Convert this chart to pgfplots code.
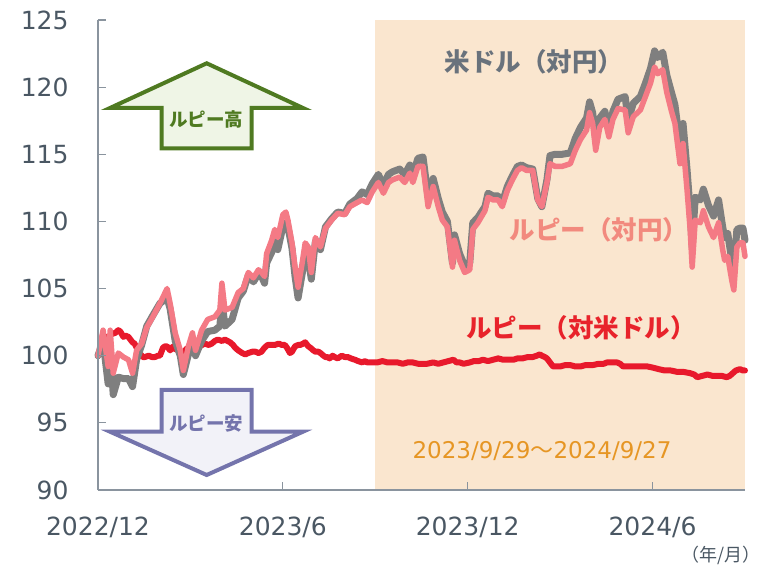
\documentclass[border=0pt]{standalone}
\usepackage{fontspec}
\setmainfont{DejaVu Sans}
\newfontfamily\jp{Noto Sans CJK JP}
\usepackage{pgfplots}
\pgfplotsset{compat=1.18}
\definecolor{axcol}{HTML}{8A949E}
\definecolor{lblcol}{HTML}{4A5763}
\definecolor{usdcol}{HTML}{7F7F7F}
\definecolor{idrjpy}{HTML}{F47A85}
\definecolor{idrusd}{HTML}{E8192C}
\definecolor{bandcol}{HTML}{FAE6CF}
\definecolor{usdtxt}{HTML}{69727C}
\definecolor{idrjpytxt}{HTML}{F28A7E}
\definecolor{idrusdtxt}{HTML}{E8232B}
\definecolor{periodtxt}{HTML}{E69624}
\definecolor{grn}{HTML}{4F7A21}
\definecolor{grnfill}{HTML}{EFF5E6}
\definecolor{pur}{HTML}{7474AC}
\definecolor{purfill}{HTML}{F2F2F8}
\begin{document}
\begin{tikzpicture}
\begin{axis}[
  at={(0,0)}, anchor=south west,
  scale only axis, width=647bp, height=470bp,
  xmin=0, xmax=637, ymin=90, ymax=125,
  axis x line*=bottom, axis y line*=left,
  axis line style={axcol, line width=1.5bp},
  every tick/.style={axcol, line width=1.2bp},
  tick align=inside, major tick length=8bp,
  xtick={0,182,364,546},
  xticklabels={2022/12,2023/6,2023/12,2024/6},
  ytick={90,95,...,125},
  /pgf/number format/assume math mode=true,
  ticklabel style={font=\fontsize{25bp}{28bp}\selectfont, text=lblcol},
  yticklabel style={xshift=-26bp},
  xticklabel style={yshift=-23bp},
  clip=false,
  axis on top,
]
\fill[bandcol] (axis cs:273,90) rectangle (axis cs:637,125);
\addplot[idrusd, line width=6bp, line join=round, line cap=round] coordinates {
(0,100.0)(3,100.6)(5,101.1)(8,101.4)(10,101.2)(13,101.6)(17,101.7)(20,101.9)(22,101.8)(25,101.4)(27,101.5)(30,101.4)(32,101.2)(34,101.0)(36,100.9)(38,100.6)(41,100.2)(44,99.9)(46,99.9)(50,100.0)(53,99.9)(56,99.9)(59,100.0)(61,100.0)(64,100.6)(66,100.7)(68,100.7)(71,100.4)(74,100.7)(76,100.5)(79,100.4)(82,100.3)(84,100.2)(87,100.5)(89,100.6)(92,100.4)(96,100.4)(100,100.7)(105,100.9)(109,100.8)(112,100.9)(115,101.1)(118,101.2)(122,101.1)(125,101.2)(130,101.0)(133,100.8)(135,100.6)(138,100.4)(142,100.2)(145,100.1)(148,100.2)(152,100.3)(155,100.3)(158,100.2)(161,100.3)(164,100.6)(167,100.8)(170,100.8)(174,100.8)(178,100.9)(181,100.8)(184,100.8)(186,100.6)(189,100.2)(191,100.3)(194,100.7)(197,100.8)(199,100.8)(202,100.9)(204,101.0)(207,100.7)(209,100.6)(212,100.4)(214,100.3)(217,100.3)(219,100.2)(222,100.0)(224,99.9)(226,99.9)(228,99.8)(231,100.0)(233,99.9)(236,99.8)(240,100.0)(243,99.9)(246,99.9)(249,99.8)(253,99.7)(256,99.6)(260,99.5)(263,99.6)(265,99.5)(270,99.5)(275,99.5)(280,99.6)(285,99.5)(290,99.5)(295,99.5)(300,99.4)(305,99.5)(310,99.5)(315,99.4)(320,99.4)(324,99.4)(330,99.5)(335,99.4)(340,99.5)(345,99.6)(350,99.7)(353,99.5)(356,99.5)(360,99.4)(366,99.5)(370,99.6)(375,99.6)(379,99.7)(384,99.6)(389,99.7)(394,99.8)(399,99.7)(404,99.7)(409,99.7)(413,99.8)(418,99.8)(423,99.9)(428,99.9)(432,100.0)(435,100.1)(437,100.0)(440,99.9)(442,99.8)(445,99.5)(448,99.2)(452,99.2)(455,99.2)(460,99.3)(465,99.3)(470,99.2)(475,99.2)(480,99.3)(487,99.3)(493,99.4)(498,99.4)(501,99.5)(506,99.5)(511,99.5)(514,99.4)(517,99.2)(522,99.2)(527,99.2)(533,99.2)(541,99.2)(547,99.1)(552,99.0)(558,98.9)(564,98.9)(570,98.8)(576,98.8)(583,98.7)(587,98.6)(590,98.4)(595,98.5)(600,98.6)(605,98.5)(609,98.5)(614,98.5)(619,98.4)(622,98.5)(625,98.7)(628,98.9)(632,99.0)(635,98.9)(637,98.9)
};
\addplot[usdcol, line width=7bp, line join=round, line cap=round] coordinates {
(0,100.0)(5,101.1)(10,97.9)(12,100.5)(15,97.1)(20,98.4)(25,98.3)(30,98.3)(34,97.7)(38,99.7)(43,100.8)(48,102.2)(54,103.0)(61,103.9)(68,104.3)(71,103.5)(76,101.1)(81,100.0)(84,98.6)(89,100.1)(93,101.2)(96,100.0)(102,101.1)(108,101.8)(115,101.9)(120,102.2)(122,104.1)(125,102.2)(132,102.7)(138,104.3)(143,104.8)(148,106.0)(153,105.5)(158,106.1)(161,105.9)(164,105.4)(166,106.9)(171,107.7)(174,108.5)(177,107.9)(182,109.6)(185,109.9)(187,109.6)(191,108.0)(194,105.9)(197,104.3)(201,106.1)(204,107.4)(207,107.3)(210,105.7)(214,108.5)(219,107.9)(224,109.6)(230,110.2)(236,110.7)(243,110.6)(248,111.3)(255,111.7)(260,112.2)(265,112.0)(270,112.8)(276,113.5)(281,112.7)(286,113.5)(290,113.7)(297,113.9)(302,113.5)(307,114.2)(310,113.5)(315,114.7)(320,114.8)(325,111.8)(330,113.2)(335,111.7)(339,110.7)(344,110.0)(349,106.9)(351,109.0)(356,107.6)(361,106.7)(366,106.9)(369,109.9)(374,110.3)(381,111.1)(384,112.1)(389,111.9)(394,111.9)(398,111.4)(403,112.6)(408,113.4)(413,114.1)(417,114.2)(422,114.0)(428,113.9)(433,111.7)(437,111.1)(442,113.1)(445,114.9)(450,115.0)(457,115.0)(465,115.1)(470,116.2)(475,117.0)(481,117.7)(484,118.9)(487,118.1)(490,116.1)(494,117.7)(499,118.2)(503,116.9)(507,118.2)(512,119.1)(519,119.3)(522,117.5)(527,118.8)(534,119.3)(539,120.3)(544,121.4)(548,122.7)(551,122.2)(556,122.6)(560,120.9)(565,119.5)(568,118.7)(573,115.7)(576,117.3)(580,113.8)(583,110.8)(585,108.1)(588,111.8)(593,111.6)(596,112.4)(601,111.2)(606,110.4)(611,111.6)(615,109.6)(617,108.8)(620,109.1)(624,107.1)(626,106.3)(629,109.4)(632,109.5)(635,109.5)(637,108.6)
};
\addplot[idrjpy, line width=5.5bp, line join=round, line cap=round] coordinates {
(0,100.0)(5,101.9)(10,99.2)(12,101.9)(15,98.7)(20,100.2)(25,99.9)(30,99.7)(34,98.7)(38,100.4)(43,100.9)(48,102.1)(54,102.9)(61,103.9)(68,105.0)(71,103.9)(76,101.7)(81,100.4)(84,98.9)(89,100.7)(93,101.7)(96,100.4)(102,101.9)(108,102.7)(115,102.9)(120,103.4)(122,105.4)(125,103.4)(132,103.6)(138,104.7)(143,105.0)(148,106.2)(153,105.8)(158,106.4)(161,106.2)(164,105.9)(166,107.6)(171,108.6)(174,109.4)(177,108.8)(182,110.5)(185,110.7)(187,110.1)(191,108.4)(194,106.6)(197,105.1)(201,106.9)(204,108.4)(207,108.1)(210,106.2)(214,108.8)(219,108.1)(224,109.5)(230,110.1)(236,110.6)(243,110.5)(248,111.1)(255,111.4)(260,111.6)(265,111.4)(270,112.2)(276,112.9)(281,112.1)(286,112.9)(290,113.1)(297,113.3)(302,112.9)(307,113.6)(310,112.9)(315,114.1)(320,114.1)(325,111.1)(330,112.6)(335,111.1)(339,110.1)(344,109.6)(349,106.6)(351,108.6)(356,107.1)(361,106.2)(366,106.4)(369,109.4)(374,109.9)(381,110.8)(384,111.8)(389,111.6)(394,111.6)(398,111.1)(403,112.3)(408,113.1)(413,113.8)(417,114.0)(422,113.8)(428,113.8)(433,111.6)(437,111.1)(442,112.9)(445,114.3)(450,114.1)(457,114.1)(465,114.3)(470,115.3)(475,116.1)(481,116.8)(484,118.1)(487,117.3)(490,115.3)(494,117.0)(499,117.6)(503,116.3)(507,117.6)(512,118.4)(519,118.3)(522,116.6)(527,117.8)(534,118.3)(539,119.3)(544,120.3)(548,121.5)(551,121.0)(556,121.3)(560,119.6)(565,118.1)(568,117.3)(573,114.3)(576,115.8)(580,112.3)(583,109.4)(585,106.6)(588,110.1)(593,109.9)(596,110.8)(601,109.6)(606,108.8)(611,109.9)(615,107.9)(617,107.1)(620,107.4)(624,105.6)(626,104.9)(629,108.1)(632,108.4)(635,108.4)(637,107.4)
};
\end{axis}
% annotation arrows
\draw[grn, line width=4bp, fill=grnfill, line join=miter]
  (108.7bp,426.7bp) -- (205bp,382bp) -- (153.7bp,382bp) -- (153.7bp,341.7bp)
  -- (63.7bp,341.7bp) -- (63.7bp,382bp) -- (12bp,382bp) -- cycle;
\node[text=grn, font=\jp\bfseries\fontsize{18.5bp}{20bp}\selectfont] at (108bp,371bp) {ルピー高};
\draw[pur, line width=4bp, fill=purfill, line join=miter]
  (63.7bp,100bp) -- (153.7bp,100bp) -- (153.7bp,58.3bp) -- (205bp,58.3bp)
  -- (108.7bp,15bp) -- (12bp,58.3bp) -- (63.7bp,58.3bp) -- cycle;
\node[text=pur, font=\jp\bfseries\fontsize{18.5bp}{20bp}\selectfont] at (108bp,67bp) {ルピー安};
% series labels
\node[text=usdtxt, font=\jp\bfseries\fontsize{25.5bp}{27bp}\selectfont] at (436bp,428bp) {米ドル（対円）};
\node[text=idrjpytxt, font=\jp\bfseries\fontsize{25.5bp}{27bp}\selectfont] at (501bp,260bp) {ルピー（対円）};
\node[text=idrusdtxt, font=\jp\bfseries\fontsize{25.5bp}{27bp}\selectfont] at (483bp,162bp) {ルピー（対米ドル）};
\node[text=periodtxt, font=\fontsize{23bp}{25bp}\selectfont] at (444bp,39bp) {2023/9/29{\jp ～}2024/9/27};
\node[anchor=east, text=lblcol, font=\jp\fontsize{18bp}{20bp}\selectfont] at (666bp,-65bp) {（年/月）};
\pgfresetboundingbox
\useasboundingbox (-98bp,-77bp) rectangle (671bp,490bp);
\end{tikzpicture}
\end{document}
